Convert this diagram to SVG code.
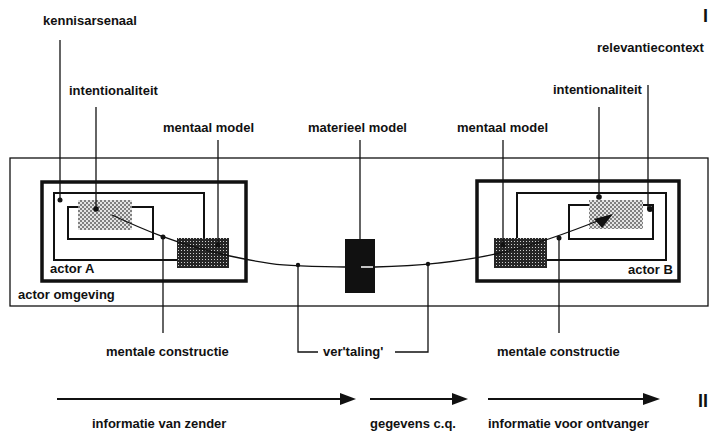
<svg xmlns="http://www.w3.org/2000/svg" width="710" height="434" viewBox="0 0 710 434">
<style>
text{font-family:"Liberation Sans",Arial,sans-serif;font-size:13px;font-weight:bold;fill:#111}
.thin{fill:none;stroke:#111;stroke-width:1.3}
.med{fill:none;stroke:#111;stroke-width:2}
.thick{fill:none;stroke:#111;stroke-width:3.5}
.ln{fill:none;stroke:#111;stroke-width:1.3}
.dot{fill:#111}
.ar{fill:none;stroke:#111;stroke-width:2}
</style>
<defs>
<pattern id="lite" width="4" height="4" patternUnits="userSpaceOnUse"><rect width="4" height="4" fill="#e4e4e4"/><rect width="2" height="2" fill="#808080"/><rect x="2" y="2" width="2" height="2" fill="#808080"/></pattern>
<pattern id="dark" width="3" height="3" patternUnits="userSpaceOnUse"><rect width="3" height="3" fill="#262626"/><rect x="1" y="1" width="1" height="1" fill="#cfcfcf"/></pattern>
<marker id="ah" viewBox="0 0 10 10" refX="9" refY="5" markerWidth="8" markerHeight="8" markerUnits="userSpaceOnUse" orient="auto"><path d="M0,0L10,5L0,10z" fill="#111"/></marker>
</defs>

<g id="omgeving">
<rect x="10" y="158" width="698" height="148" class="thin"/>
<text x="18" y="299">actor omgeving</text>
</g>

<g id="actorA">
<rect x="42" y="182" width="204" height="99" class="thick"/>
<rect x="54" y="193" width="150" height="67" class="med"/>
<rect x="68" y="207" width="85" height="32" class="med"/>
<rect x="78" y="200" width="54" height="30" fill="url(#lite)"/>
<rect x="177" y="238" width="52" height="30" fill="url(#dark)"/>
<text x="50" y="273">actor A</text>
</g>

<g id="actorB">
<rect x="477" y="181" width="202" height="100" class="thick"/>
<rect x="517" y="193" width="149" height="67" class="med"/>
<rect x="569" y="205" width="84" height="34" class="med"/>
<rect x="589" y="200" width="54" height="29" fill="url(#lite)"/>
<rect x="494" y="238" width="53" height="30" fill="url(#dark)"/>
<text x="628" y="274">actor B</text>
</g>

<g id="materieel">
<rect x="345" y="239" width="30" height="54" fill="#111"/>
<line x1="361" y1="267" x2="373" y2="267" stroke="#fff" stroke-width="1.5"/>
</g>

<g id="labels">
<text x="43" y="25">kennisarsenaal</text>
<text x="69" y="95">intentionaliteit</text>
<text x="163" y="132">mentaal model</text>
<text x="308" y="132">materieel model</text>
<text x="457" y="132">mentaal model</text>
<text x="553" y="94">intentionaliteit</text>
<text x="597" y="52">relevantiecontext</text>
<text x="106" y="356">mentale constructie</text>
<text x="497" y="356">mentale constructie</text>
<text x="323" y="356">ver'taling'</text>
<text x="92" y="428">informatie van zender</text>
<text x="370" y="428">gegevens c.q.</text>
<text x="488" y="428">informatie voor ontvanger</text>
<text x="703" y="22" style="font-size:18px">I</text>
<text x="698" y="407" style="font-size:18px">II</text>
</g>

<g id="connectors">
<line x1="60" y1="40" x2="60" y2="200" class="ln" stroke-width="2"/>
<line x1="96" y1="107" x2="96" y2="209" class="ln" stroke-width="2"/>
<line x1="218" y1="140" x2="218" y2="245" class="ln"/>
<line x1="360" y1="140" x2="360" y2="239" class="ln" stroke-width="2"/>
<line x1="503" y1="140" x2="503" y2="245" class="ln"/>
<line x1="599" y1="107" x2="599" y2="197" class="ln" stroke-width="2"/>
<line x1="648" y1="85" x2="648" y2="209" class="ln" stroke-width="2"/>
<path d="M112,215 C140,228 175,244 230,256 S300,266 345,267" class="ln" stroke-width="1.6"/>
<path d="M375,267 C420,266 465,261 500,253 S570,232 600,220" class="ln" stroke-width="1.6"/>
<polygon points="594,219 613,214 602,228" fill="#111"/>
<polyline points="163,237 163,333" class="ln" stroke-width="1.6"/>
<polyline points="559,238 559,333" class="ln" stroke-width="1.6"/>
<polyline points="298,265 298,352 318,352" class="ln"/>
<polyline points="395,352 428,352 428,264" class="ln"/>
<circle cx="60" cy="200" r="2.5" class="dot"/>
<circle cx="96" cy="209" r="2.8" class="dot"/>
<circle cx="218" cy="245" r="2.5" class="dot"/>
<circle cx="163" cy="237" r="2.5" class="dot"/>
<circle cx="298" cy="265" r="2.2" class="dot"/>
<circle cx="428" cy="264" r="2.2" class="dot"/>
<circle cx="559" cy="238" r="2.5" class="dot"/>
<circle cx="503" cy="245" r="2.5" class="dot"/>
<circle cx="599" cy="197" r="2.8" class="dot"/>
<circle cx="650" cy="209" r="3" class="dot"/>
<line x1="57" y1="399" x2="342" y2="399" class="ar"/>
<polygon points="340,393 356,399 340,405" fill="#111"/>
<line x1="370" y1="399" x2="454" y2="399" class="ar"/>
<polygon points="452,393 468,399 452,405" fill="#111"/>
<line x1="488" y1="399" x2="645" y2="399" class="ar"/>
<polygon points="643,393 660,399 643,405" fill="#111"/>
</g>
</svg>
